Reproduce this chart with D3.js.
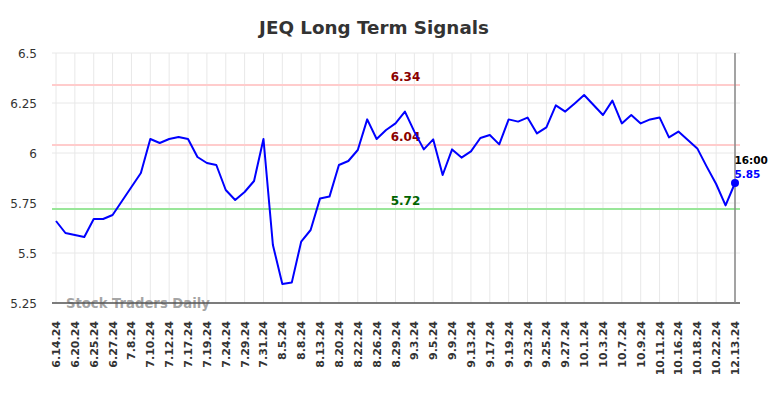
<!DOCTYPE html>
<html>
<head>
<meta charset="utf-8">
<script src="https://cdn.jsdelivr.net/npm/d3@7"></script>
<style>
  body { margin: 0; background: #fff; }
  svg { font-family: "DejaVu Sans", sans-serif; }
</style>
</head>
<body>
<div id="container"></div>
<script>
// x 轴标签（每两个数据点一个）
const labels = ["6.14.24", "6.20.24", "6.25.24", "6.27.24", "7.8.24", "7.10.24", "7.12.24", "7.17.24",
  "7.19.24", "7.24.24", "7.29.24", "7.31.24", "8.5.24", "8.8.24", "8.13.24", "8.20.24", "8.22.24",
  "8.26.24", "8.29.24", "9.3.24", "9.5.24", "9.9.24", "9.13.24", "9.17.24", "9.19.24", "9.23.24",
  "9.25.24", "9.27.24", "10.1.24", "10.3.24", "10.7.24", "10.9.24", "10.11.24", "10.16.24",
  "10.18.24", "10.22.24", "12.13.24"];

// 收盘价
const prices = [5.66, 5.60, 5.59, 5.58, 5.67, 5.67, 5.69, 5.76, 5.83, 5.90,
  6.07, 6.05, 6.07, 6.08, 6.07, 5.98, 5.95, 5.94, 5.815, 5.765,
  5.805, 5.86, 6.07, 5.54, 5.345, 5.352, 5.557, 5.615, 5.773, 5.782,
  5.94, 5.96, 6.015, 6.168, 6.07, 6.115, 6.148, 6.207, 6.107, 6.018,
  6.068, 5.89, 6.018, 5.977, 6.008, 6.075, 6.09, 6.043, 6.168, 6.157,
  6.177, 6.098, 6.128, 6.238, 6.207, 6.248, 6.29, 6.24, 6.19, 6.262,
  6.148, 6.19, 6.148, 6.168, 6.178, 6.078, 6.107, 6.065, 6.023, 5.932,
  5.845, 5.738, 5.85];

const yTicks = [5.25, 5.5, 5.75, 6, 6.25, 6.5];
const signals = [
  { value: 6.34, color: "#ffcccc", text: "#8b0000" },
  { value: 6.04, color: "#ffcccc", text: "#8b0000" },
  { value: 5.72, color: "#99e699", text: "#006400" }
];
const lastTime = "16:00";

const width = 784, height = 398;
const plotLeft = 52, plotRight = 740, plotTop = 53, plotBottom = 303;

const svg = d3.select("#container").append("svg")
  .attr("width", width).attr("height", height);

const x = d3.scaleLinear().domain([0, prices.length - 1]).range([56, 735]);
const y = d3.scaleLinear().domain([5.25, 6.5]).range([plotBottom, plotTop]);

// 标题
svg.append("text")
  .attr("x", 374).attr("y", 34)
  .attr("text-anchor", "middle")
  .attr("font-size", 18.3).attr("font-weight", "bold")
  .attr("fill", "#333")
  .text("JEQ Long Term Signals");

// 网格线
const grid = svg.append("g").attr("stroke", "#e8e8e8").attr("stroke-width", 1);
grid.selectAll("line.h").data(yTicks).join("line")
  .attr("x1", plotLeft).attr("x2", plotRight)
  .attr("y1", d => y(d)).attr("y2", d => y(d));
grid.selectAll("line.v").data(labels).join("line")
  .attr("x1", (d, i) => x(i * 2)).attr("x2", (d, i) => x(i * 2))
  .attr("y1", plotTop).attr("y2", plotBottom);

// y 轴刻度
svg.append("g").selectAll("text").data(yTicks).join("text")
  .attr("x", 37).attr("y", d => y(d) + 4.5)
  .attr("text-anchor", "end")
  .attr("font-size", 12).attr("fill", "#333")
  .text(d => d3.format("")(d));

// 信号线
svg.append("g").selectAll("line").data(signals).join("line")
  .attr("x1", plotLeft).attr("x2", plotRight)
  .attr("y1", d => y(d.value)).attr("y2", d => y(d.value))
  .attr("stroke", d => d.color).attr("stroke-width", 2);

// 水印
svg.append("text")
  .attr("x", 66).attr("y", 308)
  .attr("font-size", 13.2).attr("font-weight", "bold")
  .attr("fill", "#999").attr("fill-opacity", 0.9)
  .text("Stock Traders Daily");

// 底部轴线
svg.append("line")
  .attr("x1", plotLeft).attr("x2", plotRight)
  .attr("y1", plotBottom).attr("y2", plotBottom)
  .attr("stroke", "#555").attr("stroke-width", 1.3);

// 最后一点的竖线
svg.append("line")
  .attr("x1", x(prices.length - 1)).attr("x2", x(prices.length - 1))
  .attr("y1", plotTop).attr("y2", plotBottom)
  .attr("stroke", "#888").attr("stroke-width", 1.5);

// 信号标签
svg.append("g").selectAll("text").data(signals).join("text")
  .attr("x", 405.5).attr("y", d => y(d.value) - 4)
  .attr("text-anchor", "middle")
  .attr("font-size", 12).attr("font-weight", "bold")
  .attr("fill", d => d.text)
  .text(d => d.value.toFixed(2));

// 价格线
svg.append("path")
  .datum(prices)
  .attr("fill", "none")
  .attr("stroke", "#0000ff")
  .attr("stroke-width", 2)
  .attr("stroke-linejoin", "round")
  .attr("d", d3.line().x((d, i) => x(i)).y(d => y(d)));

// 最后一点
const lastI = prices.length - 1;
svg.append("circle")
  .attr("cx", x(lastI)).attr("cy", y(prices[lastI]))
  .attr("r", 4).attr("fill", "#0000ff");
svg.append("text")
  .attr("x", x(lastI) - 0.5).attr("y", 163.5)
  .attr("font-size", 10.5).attr("font-weight", "bold").attr("fill", "#000")
  .text(lastTime);
svg.append("text")
  .attr("x", x(lastI) - 0.5).attr("y", 177.5)
  .attr("font-size", 10.5).attr("font-weight", "bold").attr("fill", "#0000ff")
  .text(prices[lastI].toFixed(2));

// x 轴标签
svg.append("g").selectAll("text").data(labels).join("text")
  .attr("transform", (d, i) => `translate(${x(i * 2) + 4},321) rotate(-90)`)
  .attr("text-anchor", "end")
  .attr("font-size", 11).attr("font-weight", "bold").attr("fill", "#333")
  .text(d => d);
</script>
</body>
</html>
